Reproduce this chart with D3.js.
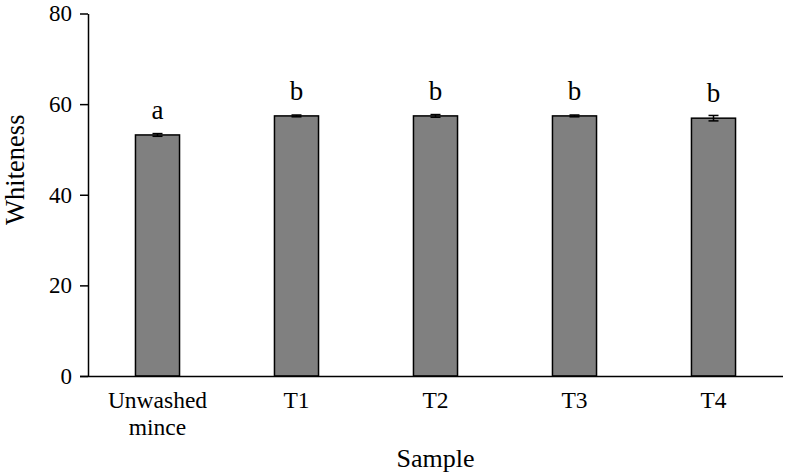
<!DOCTYPE html>
<html><head><meta charset="utf-8">
<script src="https://cdn.jsdelivr.net/npm/d3@7"></script>
<style>body{margin:0;background:#fff}svg{display:block}text{font-family:"Liberation Serif","Times New Roman",serif;fill:#000}</style>
</head><body>
<script>
const categories = ["Unwashed mince", "T1", "T2", "T3", "T4"];
const values = [53.2, 57.4, 57.4, 57.4, 56.9];
const errors = [0.3, 0.2, 0.3, 0.2, 0.6];
const letters = ["a", "b", "b", "b", "b"];
const yTicks = [0, 20, 40, 60, 80];

const W = 786, H = 476;
const m = {left: 88, right: 3, top: 13.5, bottom: 100};
const svg = d3.select("body").append("svg").attr("width", W).attr("height", H);

const x = d3.scaleBand().domain(categories).range([m.left, W - m.right]).paddingInner(0.683).paddingOuter(0.3415);
const y = d3.scaleLinear().domain([0, 80]).range([H - m.bottom, m.top]);

// bars
svg.selectAll("rect.bar").data(categories).enter().append("rect")
  .attr("x", d => x(d)).attr("width", x.bandwidth())
  .attr("y", (d, i) => y(values[i])).attr("height", (d, i) => y(0) - y(values[i]))
  .attr("fill", "#808080").attr("stroke", "#000").attr("stroke-width", 1.5);

// error bars
const eb = svg.append("g").attr("stroke", "#000").attr("stroke-width", 1.5);
categories.forEach((c, i) => {
  const cx = x(c) + x.bandwidth() / 2;
  eb.append("line").attr("x1", cx).attr("x2", cx).attr("y1", y(values[i] - errors[i])).attr("y2", y(values[i] + errors[i]));
  eb.append("line").attr("x1", cx - 5).attr("x2", cx + 5).attr("y1", y(values[i] + errors[i])).attr("y2", y(values[i] + errors[i]));
  eb.append("line").attr("x1", cx - 5).attr("x2", cx + 5).attr("y1", y(values[i] - errors[i])).attr("y2", y(values[i] - errors[i]));
});

// significance letters
svg.selectAll("text.sig").data(categories).enter().append("text")
  .attr("x", d => x(d) + x.bandwidth() / 2)
  .attr("y", (d, i) => y(values[i]) - 16)
  .attr("text-anchor", "middle").attr("font-size", 27)
  .text((d, i) => letters[i]);

// y axis
const yAxis = svg.append("g").attr("transform", `translate(${m.left},0)`)
  .call(d3.axisLeft(y).tickValues(yTicks).tickSize(8).tickPadding(8).tickSizeOuter(0));
yAxis.select(".domain").attr("stroke-width", 1.5);
yAxis.selectAll(".tick line").attr("stroke-width", 1.5);
yAxis.selectAll(".tick text").attr("font-size", 23).attr("font-family", "Liberation Serif, serif").attr("fill", "#000");

// x axis
const xAxis = svg.append("g").attr("transform", `translate(0,${y(0)})`)
  .call(d3.axisBottom(x).tickSize(0).tickPadding(0).tickFormat(""));
xAxis.select(".domain").attr("stroke-width", 1.5).attr("d", `M${m.left - 8},0.5H${W - m.right}`);
categories.forEach(c => {
  const t = svg.append("text").attr("x", x(c) + x.bandwidth() / 2).attr("y", 408)
    .attr("text-anchor", "middle").attr("font-size", 23.5);
  c.split(" ").forEach((w, j) => {
    t.append("tspan").attr("x", x(c) + x.bandwidth() / 2).attr("dy", j === 0 ? 0 : 27).text(w);
  });
});

// axis titles
svg.append("text").attr("x", (m.left + W - m.right) / 2).attr("y", 467)
  .attr("text-anchor", "middle").attr("font-size", 26).text("Sample");
svg.append("text").attr("transform", `translate(24,${(y(0) + y(80)) / 2 - 25}) rotate(-90)`)
  .attr("text-anchor", "middle").attr("font-size", 26.5).text("Whiteness");
</script>
</body></html>
